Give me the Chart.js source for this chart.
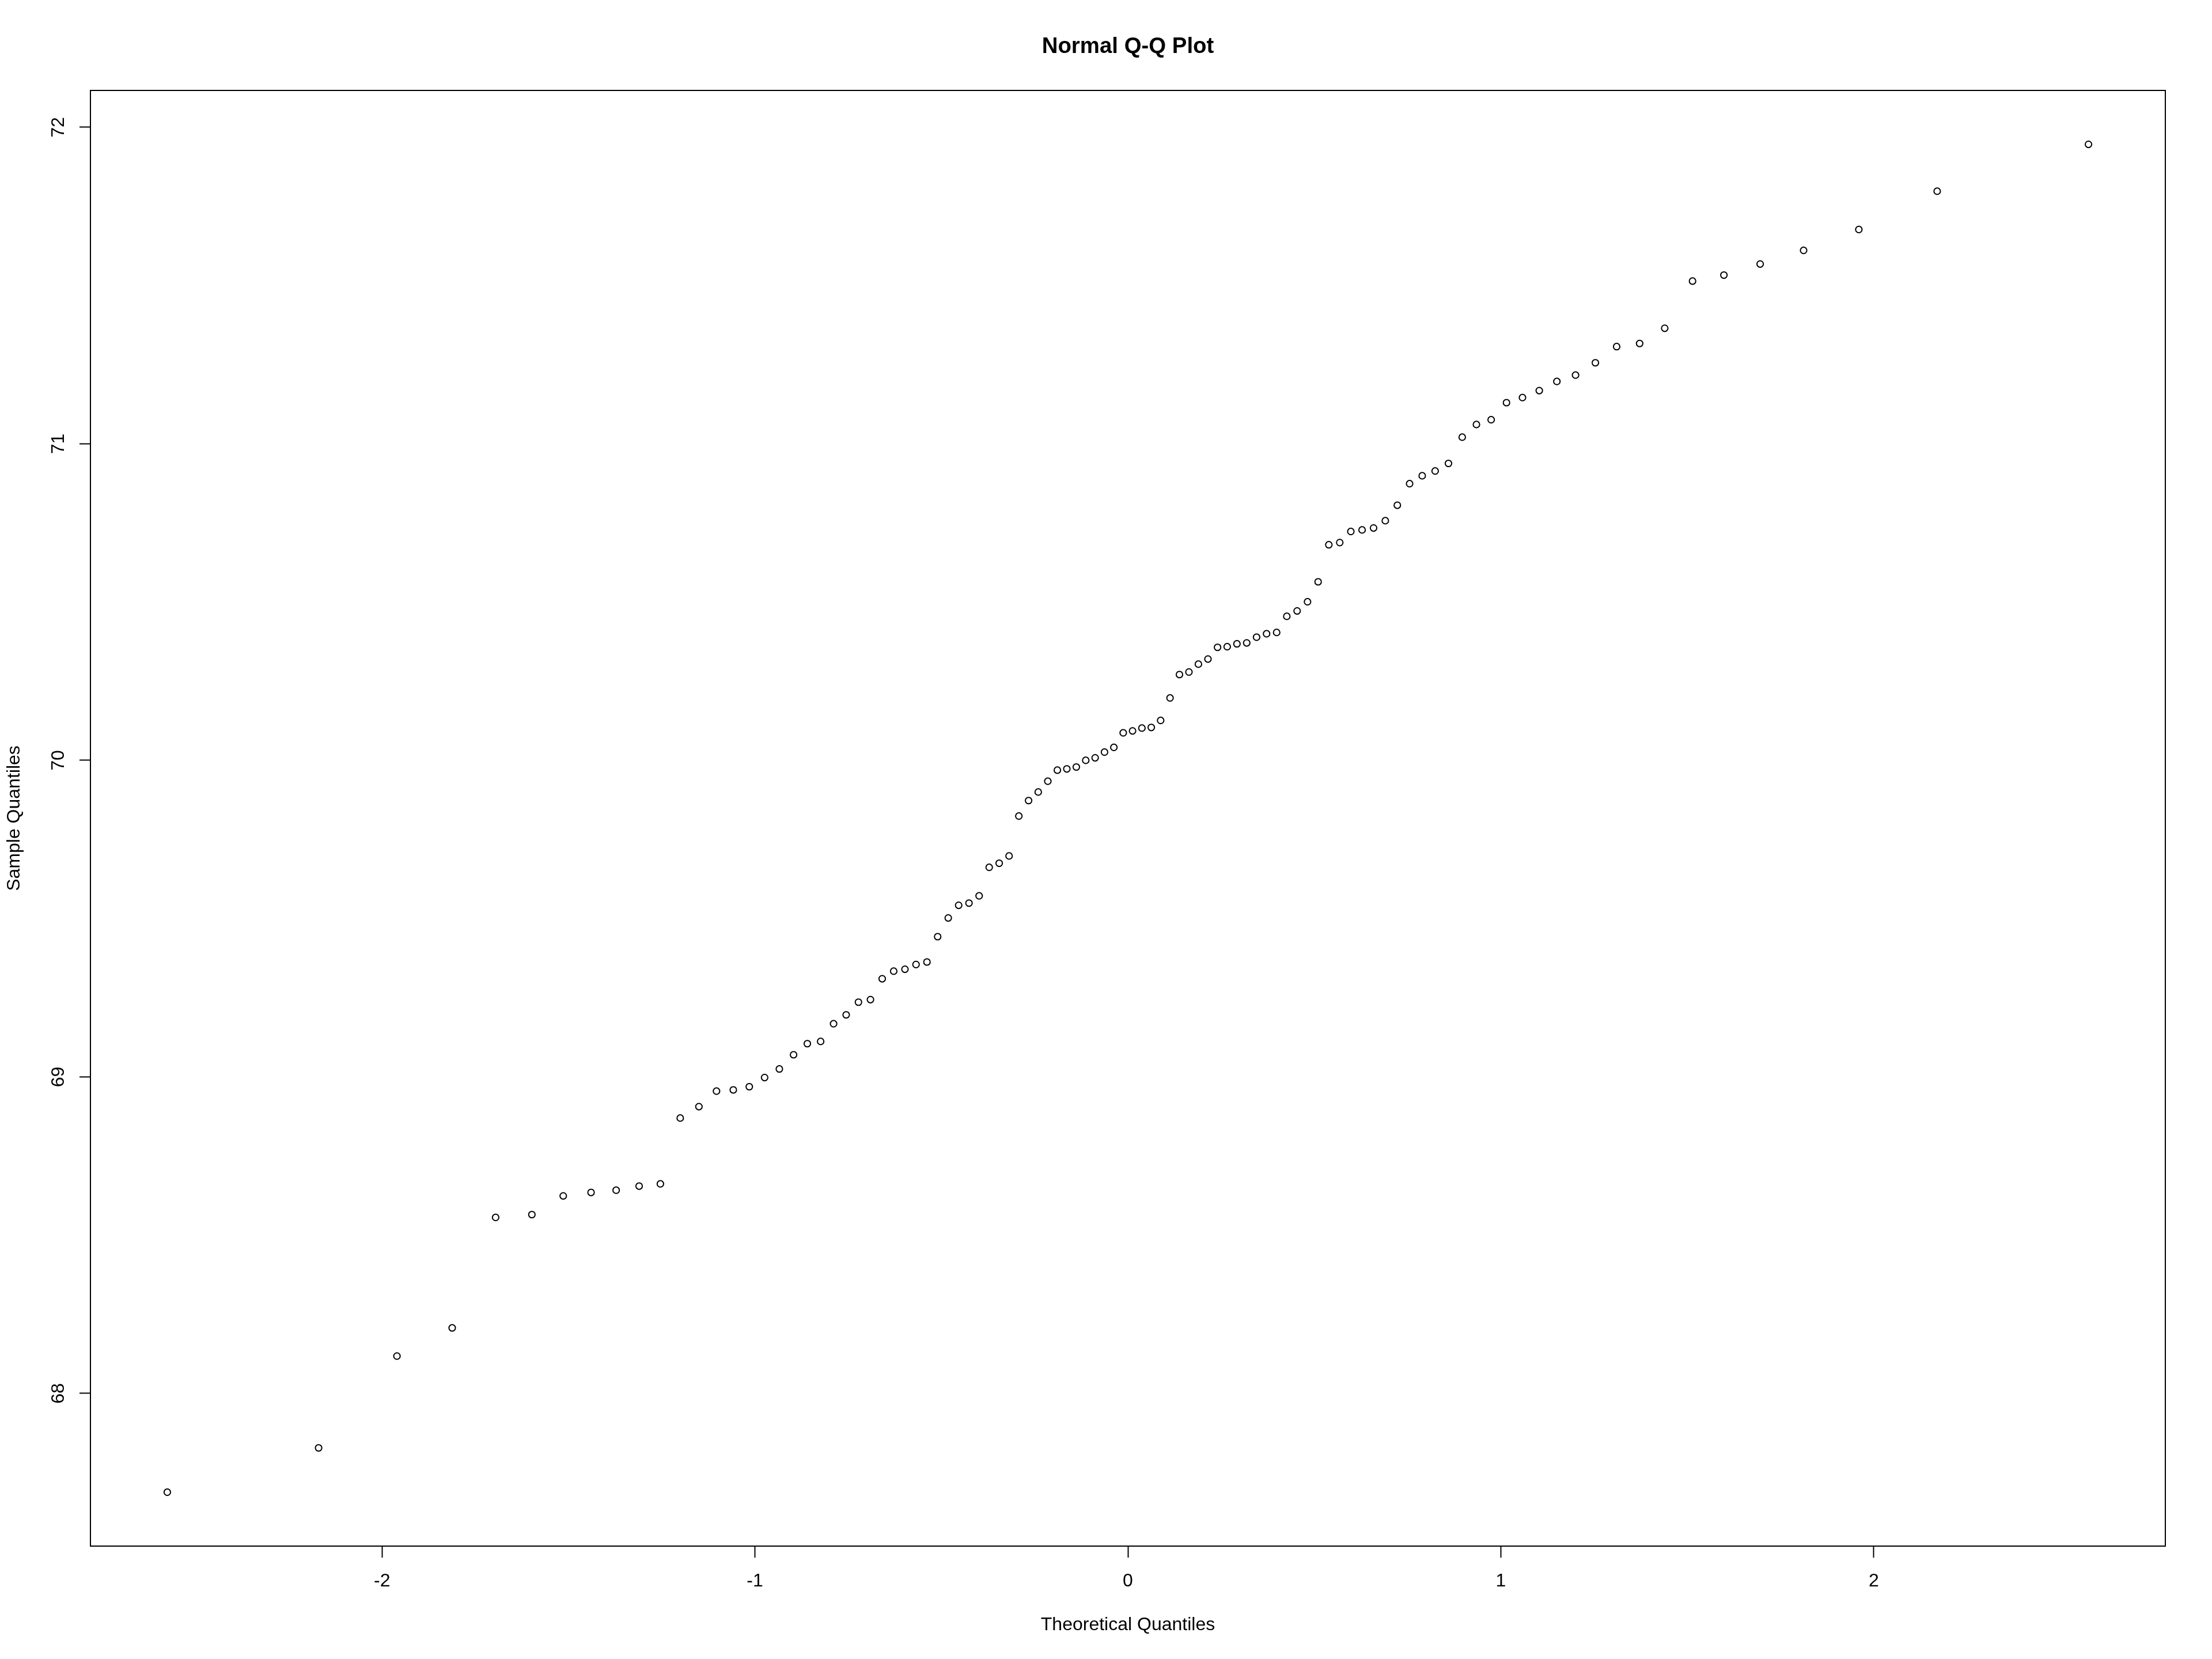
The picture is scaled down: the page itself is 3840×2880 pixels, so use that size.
<!DOCTYPE html>
<html>
<head>
<meta charset="utf-8">
<script src="https://cdn.jsdelivr.net/npm/chart.js@4/dist/chart.umd.min.js"></script>
<style>
  html, body { margin: 0; padding: 0; background: #ffffff; }
  #wrap { width: 3840px; height: 2880px; }
</style>
</head>
<body>
<div id="wrap"><canvas id="c" width="3840" height="2880"></canvas></div>
<script>
// Theoretical quantiles (x) for n = 100
const theoreticalQuantiles = [
  -2.5758, -2.1701, -1.9600, -1.8119, -1.6954, -1.5982, -1.5141, -1.4395, -1.3722, -1.3106,
  -1.2536, -1.2004, -1.1503, -1.1031, -1.0581, -1.0152, -0.9741, -0.9346, -0.8965, -0.8596,
  -0.8239, -0.7892, -0.7554, -0.7225, -0.6903, -0.6588, -0.6280, -0.5978, -0.5681, -0.5388,
  -0.5101, -0.4817, -0.4538, -0.4261, -0.3989, -0.3719, -0.3451, -0.3186, -0.2924, -0.2663,
  -0.2404, -0.2147, -0.1891, -0.1637, -0.1383, -0.1130, -0.0878, -0.0627, -0.0376, -0.0125,
   0.0125,  0.0376,  0.0627,  0.0878,  0.1130,  0.1383,  0.1637,  0.1891,  0.2147,  0.2404,
   0.2663,  0.2924,  0.3186,  0.3451,  0.3719,  0.3989,  0.4261,  0.4538,  0.4817,  0.5101,
   0.5388,  0.5681,  0.5978,  0.6280,  0.6588,  0.6903,  0.7225,  0.7554,  0.7892,  0.8239,
   0.8596,  0.8965,  0.9346,  0.9741,  1.0152,  1.0581,  1.1031,  1.1503,  1.2004,  1.2536,
   1.3106,  1.3722,  1.4395,  1.5141,  1.5982,  1.6954,  1.8119,  1.9600,  2.1701,  2.5758
];

// Sample quantiles (y)
const sampleQuantiles = [
  67.688, 67.828, 68.118, 68.207, 68.556, 68.565, 68.624, 68.635, 68.642, 68.655,
  68.662, 68.870, 68.906, 68.955, 68.959, 68.969, 68.998, 69.025, 69.070, 69.105,
  69.112, 69.168, 69.196, 69.236, 69.244, 69.310, 69.334, 69.340, 69.355, 69.363,
  69.443, 69.502, 69.542, 69.549, 69.572, 69.662, 69.675, 69.698, 69.824, 69.873,
  69.900, 69.934, 69.969, 69.973, 69.979, 70.000, 70.008, 70.026, 70.041, 70.087,
  70.093, 70.102, 70.104, 70.126, 70.197, 70.271, 70.279, 70.304, 70.320, 70.357,
  70.359, 70.368, 70.371, 70.389, 70.400, 70.404, 70.455, 70.472, 70.501, 70.564,
  70.681, 70.688, 70.723, 70.728, 70.734, 70.757, 70.806, 70.874, 70.899, 70.914,
  70.938, 71.021, 71.061, 71.076, 71.130, 71.146, 71.168, 71.197, 71.217, 71.256,
  71.307, 71.317, 71.365, 71.514, 71.533, 71.568, 71.611, 71.677, 71.798, 71.946
];

const xTicks = [-2, -1, 0, 1, 2];
const yTicks = [68, 69, 70, 71, 72];
const xRange = [-2.7819, 2.7819];
const yRange = [67.5177, 72.1163];

const titleText = 'Normal Q-Q Plot';
const xTitleText = 'Theoretical Quantiles';
const yTitleText = 'Sample Quantiles';

const FONT = "'Liberation Sans', Arial, Helvetica, sans-serif";

const points = theoreticalQuantiles.map((x, i) => ({ x: x, y: sampleQuantiles[i] }));

const boxPlugin = {
  id: 'plotBox',
  afterDraw(chart) {
    const a = chart.chartArea;
    const ctx = chart.ctx;
    ctx.save();
    ctx.strokeStyle = '#000000';
    ctx.lineWidth = 2;
    ctx.strokeRect(a.left, a.top, a.right - a.left, a.bottom - a.top);
    ctx.restore();
  }
};

new Chart(document.getElementById('c'), {
  type: 'scatter',
  data: {
    datasets: [{
      data: points,
      pointStyle: 'circle',
      pointRadius: 5.6,
      pointHoverRadius: 5.6,
      pointBorderWidth: 2,
      pointBorderColor: '#000000',
      pointBackgroundColor: 'rgba(0,0,0,0)',
      showLine: false
    }]
  },
  options: {
    responsive: false,
    devicePixelRatio: 1,
    animation: false,
    events: [],
    layout: { padding: { left: 0, right: 81, top: 0, bottom: 0 } },
    plugins: {
      legend: { display: false },
      title: { display: false },
      tooltip: { enabled: false }
    },
    scales: {
      x: {
        type: 'linear',
        position: 'bottom',
        min: xRange[0],
        max: xRange[1],
        afterBuildTicks: s => { s.ticks = xTicks.map(v => ({ value: v })); },
        afterFit: s => { s.height = 196; },
        border: { display: false },
        grid: {
          display: true,
          drawOnChartArea: false,
          drawTicks: true,
          tickLength: 20,
          tickWidth: 2,
          tickColor: '#000000',
          color: '#000000'
        },
        ticks: {
          color: '#000000',
          padding: 21.6,
          maxRotation: 0,
          autoSkip: false,
          font: { family: FONT, size: 32 },
          callback: v => String(v)
        },
        title: {
          display: true,
          text: xTitleText,
          color: '#000000',
          font: { family: FONT, size: 32 },
          padding: { top: 0, bottom: 39.8 }
        }
      },
      xTop: {
        type: 'linear',
        position: 'top',
        min: xRange[0],
        max: xRange[1],
        afterFit: s => { s.height = 157; },
        border: { display: false },
        grid: { display: false },
        ticks: { display: false },
        title: {
          display: true,
          text: titleText,
          color: '#000000',
          font: { family: FONT, size: 38.4, weight: 'bold' },
          padding: { top: 58.8, bottom: 0 }
        }
      },
      y: {
        type: 'linear',
        position: 'left',
        min: yRange[0],
        max: yRange[1],
        afterBuildTicks: s => { s.ticks = yTicks.map(v => ({ value: v })); },
        afterFit: s => { s.width = 157; },
        border: { display: false },
        grid: {
          display: true,
          drawOnChartArea: false,
          drawTicks: true,
          tickLength: 19,
          tickWidth: 2,
          tickColor: '#000000',
          color: '#000000'
        },
        ticks: {
          color: '#000000',
          padding: 17.7,
          minRotation: 90,
          maxRotation: 90,
          crossAlign: 'center',
          autoSkip: false,
          font: { family: FONT, size: 32 },
          callback: v => String(v)
        },
        title: {
          display: true,
          text: yTitleText,
          color: '#000000',
          font: { family: FONT, size: 32 },
          padding: { top: 5.6, bottom: 0 }
        }
      }
    }
  },
  plugins: [boxPlugin]
});
</script>
</body>
</html>
